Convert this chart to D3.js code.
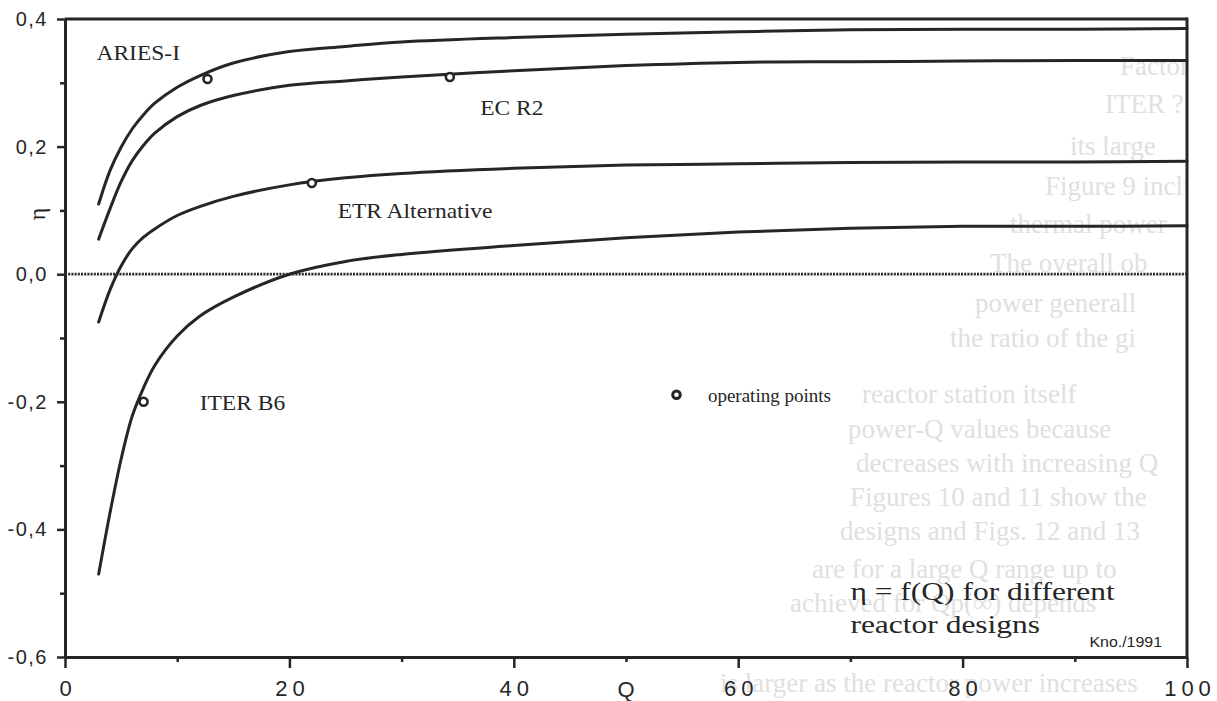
<!DOCTYPE html>
<meta charset="utf-8">
<style>
	body{margin:0;background:#fff}
	svg{display:block}
</style>
<svg width="1217" height="701"></svg>
<script src="https://d3js.org/d3.v7.min.js"></script>
<script type="text/javascript">
	// efficiency eta vs. Q for four reactor designs
	var qGrid    = [3, 4, 5, 6, 7, 8, 10, 12, 15, 20, 25, 30, 40, 50, 60, 70, 80, 90, 100];
	var ariesEta = [0.110, 0.162, 0.199, 0.228, 0.250, 0.268, 0.293, 0.311, 0.331, 0.349, 0.357, 0.364, 0.371, 0.376, 0.380, 0.383, 0.384, 0.384, 0.385];
	var ecr2Eta  = [0.055, 0.102, 0.145, 0.178, 0.202, 0.221, 0.247, 0.264, 0.280, 0.296, 0.303, 0.309, 0.319, 0.327, 0.332, 0.333, 0.334, 0.335, 0.335];
	var etrEta   = [-0.075, -0.025, 0.013, 0.040, 0.058, 0.071, 0.092, 0.106, 0.122, 0.140, 0.151, 0.158, 0.166, 0.171, 0.173, 0.175, 0.176, 0.176, 0.177];
	var iterEta  = [-0.470, -0.375, -0.290, -0.222, -0.178, -0.143, -0.097, -0.066, -0.036, 0.000, 0.020, 0.031, 0.045, 0.057, 0.066, 0.072, 0.075, 0.075, 0.076];

	var designs = ["ARIES-I", "EC R2", "ETR Alternative", "ITER B6"];

	// operating points, one per design
	var opQ   = [12.7, 34.3, 22, 7];
	var opEta = [0.306, 0.309, 0.143, -0.200];

	var xMajor = [0, 20, 40, 60, 80, 100],
		xMinor = [10, 30, 50, 70, 90],
		yMajor = [-0.6, -0.4, -0.2, 0, 0.2, 0.4],
		yMinor = [-0.5, -0.3, -0.1, 0.1, 0.3];

	// faint text showing through from the page underneath
	var ghostLines = ["Factors", "ITER ?", "its large", "Figure 9 inclu", "thermal power", "The overall ob",
		"power generall", "the ratio of the gi", "reactor station itself", "power-Q values because",
		"decreases with increasing Q", "Figures 10 and 11 show the", "designs and Figs. 12 and 13",
		"are for a large Q range up to", "achieved for Qp(\u221e) depends", "is larger as the reactor power increases"];
	var ghostX = [1120, 1105, 1070, 1045, 1010, 990, 975, 950, 862, 848, 856, 850, 840, 812, 790, 720];
	var ghostY = [75, 113, 155, 195, 233, 272, 312, 347, 403, 438, 472, 506, 540, 578, 612, 692];

	var svg = d3.select("svg"),
		width = +svg.attr("width"),
		height = +svg.attr("height");

	var x = d3.scaleLinear().domain([0, 100]).range([65, 1187]),
		y = d3.scaleLinear().domain([-0.6, 0.4]).range([657, 19]);

	var ink = "#262626";
	var sans = "'Liberation Sans', Arial, sans-serif",
		serif = "'Liberation Serif', 'Times New Roman', serif";

	svg.append("clipPath").attr("id", "page").append("rect")
		.attr("x", 0).attr("y", 0).attr("width", x(100) - 2).attr("height", height);

	var ghost = svg.append("g").attr("clip-path", "url(#page)")
		.attr("fill", "#e0e0e0").style("font-family", serif).style("font-size", "27px");
	ghost.selectAll("text").data(ghostLines).enter().append("text")
		.attr("x", function(d, i){ return ghostX[i]; })
		.attr("y", function(d, i){ return ghostY[i]; })
		.text(function(d){ return d; });

	var fmt = d3.formatLocale({decimal: ",", thousands: ".", grouping: [3], currency: ["", ""], minus: "-"}).format(".1f");

	// y axis
	var gy = svg.append("g").attr("transform", "translate(" + x(0) + ",0)")
		.call(d3.axisLeft(y).tickValues(yMajor).tickSize(8).tickSizeOuter(0).tickPadding(9).tickFormat(fmt));
	svg.append("g").attr("transform", "translate(" + x(0) + ",0)")
		.call(d3.axisLeft(y).tickValues(yMinor).tickSize(5).tickSizeOuter(0).tickFormat(""))
		.select(".domain").remove();

	// x axis
	var gx = svg.append("g").attr("transform", "translate(0," + y(-0.6) + ")")
		.call(d3.axisBottom(x).tickValues(xMajor).tickSize(11).tickSizeOuter(0).tickPadding(12));
	svg.append("g").attr("transform", "translate(0," + y(-0.6) + ")")
		.call(d3.axisBottom(x).tickValues(xMinor).tickSize(5).tickSizeOuter(0).tickFormat(""))
		.select(".domain").remove();

	svg.selectAll(".domain").attr("stroke", ink).attr("stroke-width", 3);
	svg.selectAll(".tick line").attr("stroke", ink).attr("stroke-width", 2.5);
	gy.selectAll(".tick text").attr("fill", ink).style("font-family", sans).style("font-size", "20px").style("letter-spacing", "1.5px");
	gx.selectAll(".tick text").attr("fill", ink).style("font-family", sans).style("font-size", "22px").style("letter-spacing", "5px").attr("dx", "2.5px");

	// frame: top and right
	svg.append("line").attr("x1", x(0)).attr("x2", x(100)).attr("y1", y(0.4)).attr("y2", y(0.4))
		.attr("stroke", ink).attr("stroke-width", 3);
	svg.append("line").attr("x1", x(100)).attr("x2", x(100)).attr("y1", y(0.4) - 1.5).attr("y2", y(-0.6))
		.attr("stroke", ink).attr("stroke-width", 3);

	// dotted zero line
	svg.append("line").attr("x1", x(0)).attr("x2", x(100)).attr("y1", y(0)).attr("y2", y(0))
		.attr("stroke", ink).attr("stroke-width", 2.8).attr("stroke-dasharray", "2,1.2");

	var series = [ariesEta, ecr2Eta, etrEta, iterEta].map(function(vals){
		return vals.map(function(v, i){ return {q: qGrid[i], eta: v}; });
	});

	var line = d3.line().x(function(d){ return x(d.q); }).y(function(d){ return y(d.eta); }).curve(d3.curveCatmullRom.alpha(0.5));

	svg.append("g").selectAll("path").data(series).enter().append("path")
		.attr("fill", "none").attr("stroke", ink).attr("stroke-width", 3)
		.attr("stroke-linecap", "round").attr("stroke-linejoin", "round").attr("d", line);

	svg.append("g").selectAll("circle").data(opQ).enter().append("circle")
		.attr("cx", function(d){ return x(d); })
		.attr("cy", function(d, i){ return y(opEta[i]); })
		.attr("r", 4).attr("fill", "#fff").attr("stroke", ink).attr("stroke-width", 2.6);

	// text helper: horizontally stretched like the scan
	function label(txt, q, eta, size, sx, family){
		return svg.append("text")
			.attr("transform", "translate(" + x(q) + "," + y(eta) + ") scale(" + sx + ",1)")
			.attr("fill", ink).style("font-family", family).style("font-size", size + "px")
			.text(txt);
	}

	var labelAt = [[2.8, 0.336], [37.0, 0.250], [24.3, 0.088], [12.0, -0.213]];
	designs.forEach(function(name, i){
		label(name, labelAt[i][0], labelAt[i][1], 21, 1.12, serif);
	});

	// legend
	svg.append("circle").attr("cx", x(54.5)).attr("cy", y(-0.189)).attr("r", 3.8)
		.attr("fill", "#fff").attr("stroke", ink).attr("stroke-width", 3);
	label("operating points", 57.3, -0.200, 19, 1.0, serif);

	// caption
	label("\u03b7 = f(Q) for different", 70.0, -0.511, 25, 1.26, serif);
	label("reactor designs", 70.0, -0.563, 25, 1.26, serif);
	label("Kno./1991", 91.3, -0.585, 14, 1.14, sans);

	// axis titles
	svg.append("text").attr("transform", "translate(37,214) rotate(-90)")
		.attr("text-anchor", "middle").attr("dominant-baseline", "central")
		.attr("fill", ink).style("font-family", serif).style("font-size", "24px").text("\u03b7");
	svg.append("text").attr("x", x(50)).attr("y", 697).attr("text-anchor", "middle")
		.attr("fill", ink).style("font-family", sans).style("font-size", "22px").text("Q");
</script>
